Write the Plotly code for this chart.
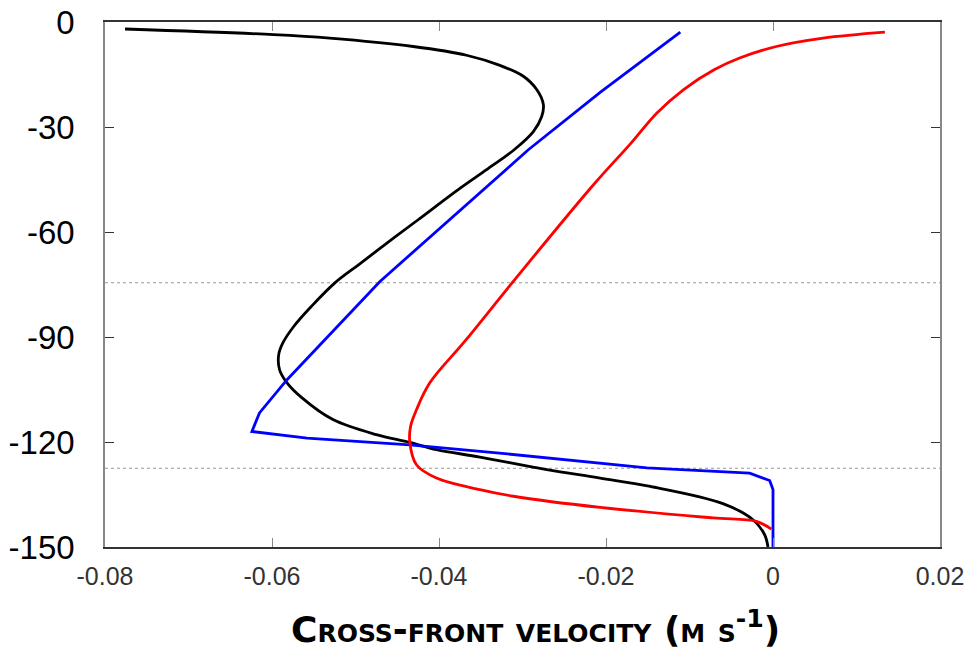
import plotly.graph_objects as go

# Cross-front velocity profiles (m/s) against depth (m)
black_u = [-0.0776, -0.0598, -0.0531, -0.0431, -0.0367, -0.0327, -0.0299, -0.0283,
           -0.0275, -0.0277, -0.0287, -0.0310, -0.0343, -0.0377, -0.0425, -0.0462,
           -0.0496, -0.0525, -0.0553, -0.0574, -0.0587, -0.0592, -0.0591, -0.0582,
           -0.0564, -0.0527, -0.0475, -0.0435, -0.0403, -0.0351, -0.0271, -0.0207,
           -0.0147, -0.0060, -0.0024, -0.0010, -0.0006]
black_z = [-2.0, -3.6, -4.6, -7.0, -9.5, -12.4, -15.5, -19.3,
           -23.6, -27.0, -31.3, -36.5, -42.2, -47.9, -56.5, -63.1,
           -69.3, -74.6, -81.3, -87.0, -91.7, -95.1, -99.3, -103.1,
           -107.4, -113.6, -117.9, -120.1, -122.2, -124.3, -127.9, -130.3,
           -132.7, -137.6, -142.2, -146.5, -150.0]

blue_u = [-0.0111, -0.0207, -0.0293, -0.0471, -0.0582, -0.0615, -0.0620,
          -0.0624, -0.0558, -0.0471, -0.0435, -0.0331, -0.0207, -0.0151, -0.0028,
          -0.0004, 0.0, 0.0]
blue_z = [-2.9, -20.1, -36.5, -74.2, -102.2, -111.7, -114.6,
          -117.0, -118.9, -120.3, -120.8, -123.1, -126.2, -127.4, -128.9,
          -131.0, -133.6, -150.0]

red_u = [0.0134, 0.0060, 0.0004, -0.0040, -0.0070, -0.0107, -0.0139, -0.0170,
         -0.0215, -0.0311, -0.0369, -0.0411, -0.0427, -0.0434, -0.0435,
         -0.0427, -0.0403, -0.0351, -0.0311, -0.0207, -0.0072, -0.0020, -0.0002]
red_z = [-2.9, -4.6, -7.0, -10.3, -13.6, -19.3, -26.0, -34.6,
         -46.5, -74.1, -91.2, -103.1, -110.8, -115.5, -120.0,
         -126.5, -130.3, -133.6, -135.5, -138.7, -141.7, -142.7, -144.9]

# Reference depths marked by dotted lines
ref_depths = [-74.5, -127.5]

x_ticks = [-0.08, -0.06, -0.04, -0.02, 0.0, 0.02]
x_labels = ["-0.08", "-0.06", "-0.04", "-0.02", "0", "0.02"]
y_ticks = [0, -30, -60, -90, -120, -150]
y_labels = ["0", "-30", "-60", "-90", "-120", "-150"]

x_title = "Cross-front velocity (m s<sup>-1</sup>)"

fig = go.Figure()
profiles = [
    (black_u, black_z, "black", "spline"),
    (blue_u, blue_z, "#0000ff", "linear"),
    (red_u, red_z, "#ff0000", "spline"),
]
for u, z, c, shape in profiles:
    fig.add_trace(go.Scatter(
        x=u, y=z, mode="lines",
        line=dict(color=c, width=2.8, shape=shape, smoothing=1.0),
        showlegend=False, hoverinfo="skip"))

for d in ref_depths:
    fig.add_shape(type="line", xref="paper", x0=0, x1=1, yref="y", y0=d, y1=d,
                  line=dict(color="#999999", width=1, dash="dot"), layer="below")

# Small-caps axis caption placed under the plot
fig.add_annotation(
    text=x_title, xref="paper", yref="paper", x=0.515, y=-0.152,
    xanchor="center", yanchor="middle", showarrow=False,
    font=dict(family="DejaVu Sans, sans-serif", size=36, variant="small-caps",
              weight="bold", color="black"))

fig.update_layout(
    width=971, height=652,
    margin=dict(l=105, r=31, t=22, b=105, autoexpand=False),
    paper_bgcolor="white", plot_bgcolor="white",
    font=dict(family="Liberation Sans, Arial, sans-serif", color="black"),
    xaxis=dict(
        range=[-0.08, 0.02], tickvals=x_ticks, ticktext=x_labels,
        ticks="inside", ticklen=9, tickwidth=1, tickcolor="#888888",
        showline=True, linecolor="#333333", linewidth=1.5, mirror="ticks",
        showgrid=False, zeroline=False, automargin=False,
        tickfont=dict(size=25, color="#333333"), ticklabelstandoff=6,
    ),
    yaxis=dict(
        range=[-150, 0], tickvals=y_ticks, ticktext=y_labels,
        ticks="inside", ticklen=9, tickwidth=1, tickcolor="#333333",
        showline=True, linecolor="#888888", linewidth=1.5, mirror="ticks",
        showgrid=False, zeroline=False, automargin=False,
        tickfont=dict(size=33, color="black"), ticklabelstandoff=22,
    ),
)

fig.write_html("out.html")
